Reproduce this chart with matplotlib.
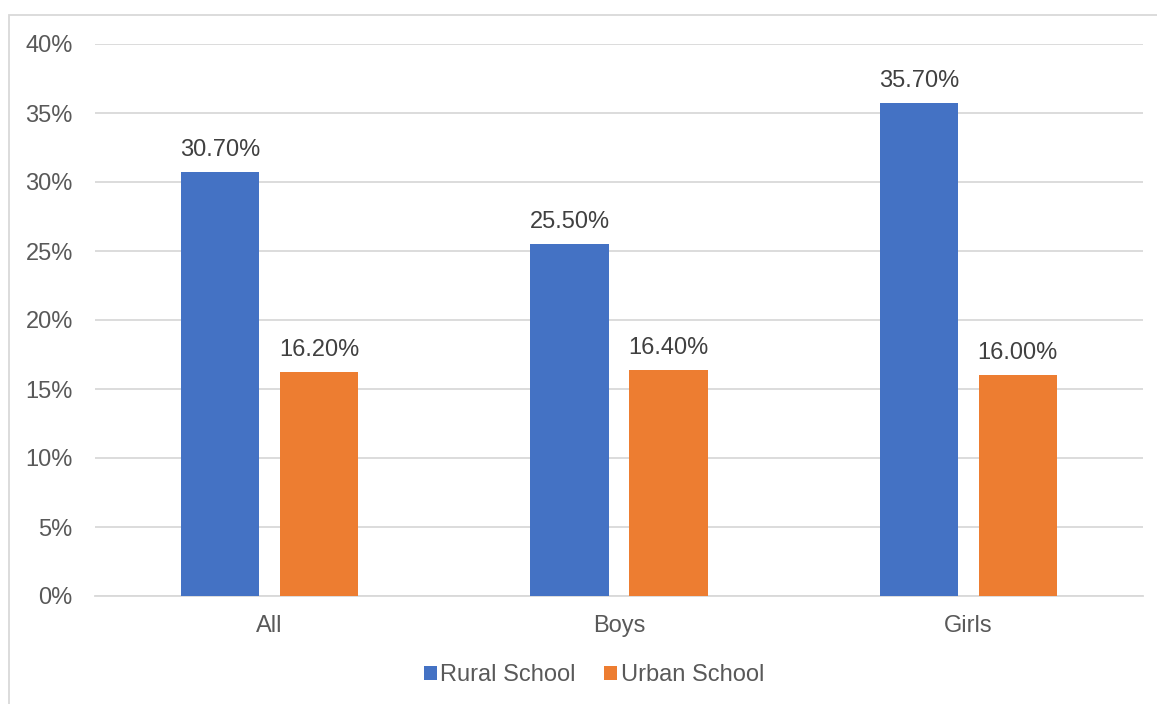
import matplotlib
matplotlib.use("Agg")
import matplotlib.pyplot as plt
from matplotlib.patches import Rectangle
import numpy as np

plt.rcParams['font.family'] = ['Liberation Sans', 'DejaVu Sans']

categories = ["All", "Boys", "Girls"]
series_names = ["Rural School", "Urban School"]
rural = [30.7, 25.5, 35.7]
urban = [16.2, 16.4, 16.0]
yticks = [0, 5, 10, 15, 20, 25, 30, 35, 40]

BLUE = "#4472C4"
ORANGE = "#ED7D31"
GRID = "#D9D9D9"
TEXT = "#595959"
LABEL = "#404040"

W, H = 1157, 704
fig = plt.figure(figsize=(W / 100, H / 100), dpi=100)

# outer chart border (extends past the right and bottom edges)
fig.patches.append(Rectangle((9 / W, -0.1), 1.2, 1 - 15 / H + 0.1,
                             transform=fig.transFigure, fill=False,
                             edgecolor=GRID, linewidth=1.3, zorder=0))

left, right, top, bottom = 95, 1143, 44, 596
ax = fig.add_axes([left / W, 1 - bottom / H, (right - left) / W, (bottom - top) / H])

x = np.arange(len(categories))
bw = 0.2235
off = 0.1418
b1 = ax.bar(x - off, rural, bw, color=BLUE, label=series_names[0], zorder=3)
b2 = ax.bar(x + off, urban, bw, color=ORANGE, label=series_names[1], zorder=3)

for bars, vals in ((b1, rural), (b2, urban)):
    for rect, v in zip(bars, vals):
        ax.annotate(f"{v:.2f}%", (rect.get_x() + rect.get_width() / 2, v),
                    xytext=(0, 8), textcoords="offset points",
                    ha="center", va="bottom", fontsize=17, color=LABEL)

ax.set_xlim(-0.5, len(categories) - 0.5)
ax.set_ylim(0, 40)
ax.set_yticks(yticks)
ax.set_yticklabels([f"{t}%" for t in yticks])
ax.set_xticks(x)
ax.set_xticklabels(categories)
ax.tick_params(axis="y", length=0, pad=16, labelsize=17, labelcolor=TEXT)
ax.tick_params(axis="x", length=0, pad=14, labelsize=17, labelcolor=TEXT)
ax.yaxis.grid(True, color=GRID, linewidth=1.3, zorder=0)
ax.set_axisbelow(True)
for s in ("top", "right", "left"):
    ax.spines[s].set_visible(False)
ax.spines["bottom"].set_color(GRID)
ax.spines["bottom"].set_linewidth(1.3)

leg = fig.legend(loc="center", bbox_to_anchor=(594 / W, 1 - 675 / H), ncol=2,
                 frameon=False, fontsize=17, handlelength=0.55, handleheight=0.55,
                 handletextpad=0.15, columnspacing=1.2, labelcolor=TEXT)

fig.savefig("out.png", dpi=100, facecolor="white")
